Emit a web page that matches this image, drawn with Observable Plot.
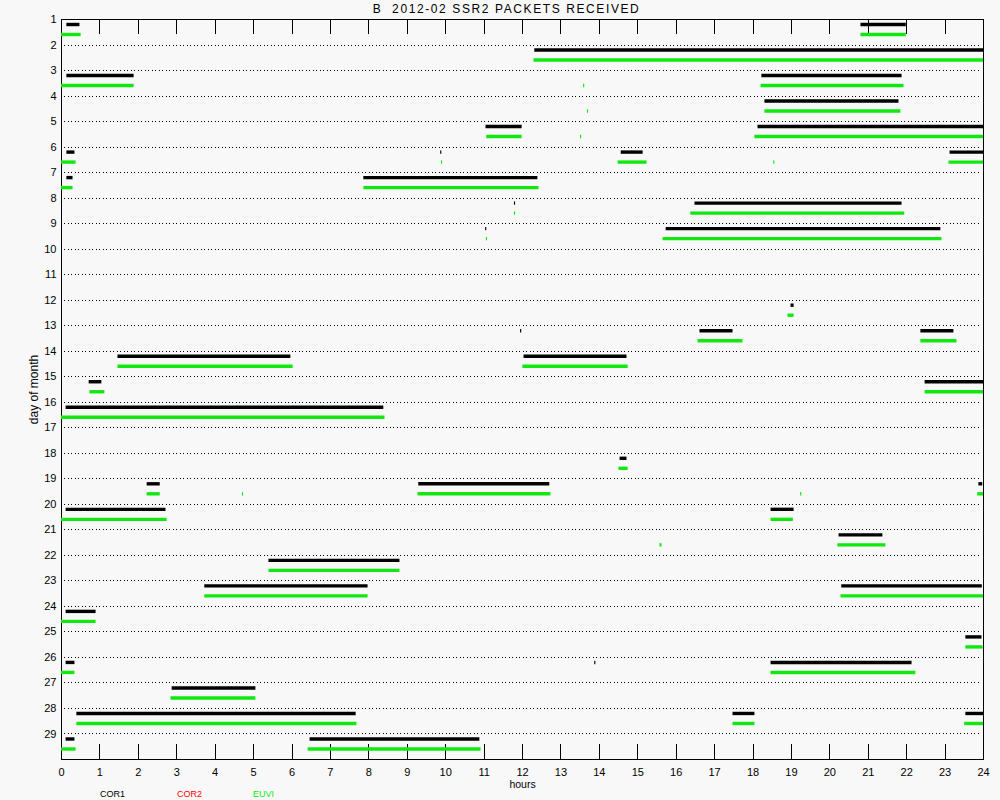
<!DOCTYPE html>
<html>
<head>
<meta charset="utf-8">
<script src="https://cdn.jsdelivr.net/npm/d3@7"></script>
<script src="https://cdn.jsdelivr.net/npm/@observablehq/plot@0.6"></script>
<style>
  html, body { margin: 0; padding: 0; background: #f8f8f8; }
</style>
</head>
<body>
<div id="chart"></div>
<script>
// Packet reception windows for February 2012, SSR2, spacecraft B.
// Each segment: [day of month, start hour, end hour]
const titleText = "B\u00a0\u00a02012-02 SSR2 PACKETS RECEIVED";

const dayTicks = [1, 2, 3, 4, 5, 6, 7, 8, 9, 10, 11, 12, 13, 14, 15, 16, 17, 18, 19, 20, 21, 22, 23, 24, 25, 26, 27, 28, 29];
const hourTicks = [0, 1, 2, 3, 4, 5, 6, 7, 8, 9, 10, 11, 12, 13, 14, 15, 16, 17, 18, 19, 20, 21, 22, 23, 24];

const cor1 = [
  [1, 0.14, 0.48], [1, 20.81, 21.99],
  [2, 12.32, 24],
  [3, 0.14, 1.89], [3, 18.23, 21.88],
  [4, 18.31, 21.80],
  [5, 11.05, 11.99], [5, 18.13, 24],
  [6, 0.14, 0.35], [6, 9.87, 9.90], [6, 14.57, 15.14], [6, 23.13, 24],
  [7, 0.14, 0.30], [7, 7.87, 12.40],
  [8, 11.79, 11.82], [8, 16.49, 21.88],
  [9, 11.04, 11.07], [9, 15.74, 22.89],
  [12, 18.99, 19.07],
  [13, 11.95, 11.98], [13, 16.62, 17.48], [13, 22.37, 23.23],
  [14, 1.47, 5.97], [14, 12.04, 14.72],
  [15, 0.72, 1.05], [15, 22.48, 24],
  [16, 0.12, 8.39],
  [18, 14.54, 14.72],
  [19, 2.23, 2.57], [19, 9.30, 12.71], [19, 23.88, 23.98],
  [20, 0.12, 2.72], [20, 18.47, 19.07],
  [21, 20.24, 21.38],
  [22, 5.40, 8.81],
  [23, 3.73, 7.98], [23, 20.31, 23.97],
  [24, 0.12, 0.90],
  [25, 23.54, 23.96],
  [26, 0.12, 0.35], [26, 13.88, 13.91], [26, 18.47, 22.14],
  [27, 2.88, 5.06],
  [28, 0.40, 7.67], [28, 17.48, 18.05], [28, 23.54, 24],
  [29, 0.12, 0.35], [29, 6.47, 10.89]
];

const cor2 = [];

const euvi = [
  [1, 0.0, 0.51], [1, 20.81, 21.99],
  [2, 12.30, 24],
  [3, 0.0, 1.89], [3, 13.59, 13.62], [3, 18.21, 21.93],
  [4, 13.69, 13.72], [4, 18.31, 21.85],
  [5, 11.07, 11.99], [5, 13.51, 13.54], [5, 18.05, 24],
  [6, 0.0, 0.38], [6, 9.89, 9.92], [6, 14.49, 15.24], [6, 18.54, 18.57], [6, 23.10, 24],
  [7, 0.0, 0.30], [7, 7.87, 12.43],
  [8, 11.79, 11.82], [8, 16.38, 21.95],
  [9, 11.06, 11.09], [9, 15.66, 22.92],
  [12, 18.91, 19.07],
  [13, 16.57, 17.74], [13, 22.37, 23.31],
  [14, 1.47, 6.03], [14, 12.01, 14.75],
  [15, 0.74, 1.13], [15, 22.48, 24],
  [16, 0.0, 8.42],
  [18, 14.51, 14.75],
  [19, 2.23, 2.57], [19, 4.71, 4.74], [19, 9.28, 12.74], [19, 19.24, 19.27], [19, 23.85, 24],
  [20, 0.0, 2.75], [20, 18.47, 19.05],
  [21, 15.58, 15.63], [21, 20.21, 21.46],
  [22, 5.40, 8.81],
  [23, 3.73, 7.98], [23, 20.29, 24],
  [24, 0.0, 0.90],
  [25, 23.54, 23.99],
  [26, 0.0, 0.35], [26, 18.47, 22.24],
  [27, 2.85, 5.06],
  [28, 0.40, 7.69], [28, 17.48, 18.05], [28, 23.51, 24],
  [29, 0.0, 0.38], [29, 6.42, 10.92]
];

const legendNames = ["COR1", "COR2", "EUVI"];
const legendColors = ["#000000", "#ff0000", "#10e810"];

const toSeg = ([day, start, end]) => ({day, start, end});
const segs = (rows, color, dy) =>
  Plot.ruleY(rows.map(toSeg), {
    y: "day", x1: "start", x2: "end", dy,
    stroke: color, strokeWidth: 3.4
  });

const innerHours = hourTicks.filter(h => h > 0 && h < 24);
const legendDx = [51, 128, 202];

const chart = Plot.plot({
  width: 1000,
  height: 800,
  marginLeft: 61,
  marginRight: 17,
  marginTop: 19,
  marginBottom: 41,
  style: {background: "#f8f8f8", fontFamily: "Liberation Sans, Arial, sans-serif", fontSize: "11px", color: "#000"},
  x: {domain: [0, 24]},
  y: {domain: [30, 1]},
  marks: [
    // dotted day lines
    Plot.ruleY(dayTicks.filter(d => d > 1), {
      y: d => d, insetLeft: 3, insetRight: 3,
      stroke: "#000", strokeWidth: 1, strokeDasharray: "1,2.5", shapeRendering: "crispEdges"
    }),
    // inward hour ticks on top and bottom edges
    Plot.ruleX(innerHours, {x: d => d, insetBottom: 725, stroke: "#000", shapeRendering: "crispEdges"}),
    Plot.ruleX(innerHours, {x: d => d, insetTop: 725, stroke: "#000", shapeRendering: "crispEdges"}),
    Plot.frame({stroke: "#000", shapeRendering: "crispEdges"}),
    segs(cor1, legendColors[0], 5),
    segs(cor2, legendColors[1], 10),
    segs(euvi, legendColors[2], 15),
    Plot.axisX(hourTicks, {anchor: "bottom", tickSize: 0, tickPadding: 9, fontSize: 11, label: null}),
    Plot.axisY(dayTicks, {anchor: "left", tickSize: 0, tickPadding: 5, fontSize: 11, label: null}),
    Plot.text([titleText], {frameAnchor: "top", lineAnchor: "middle", dx: -16, dy: -10, fontSize: 12}),
    Plot.text(["hours"], {frameAnchor: "bottom", lineAnchor: "middle", dy: 25, fontSize: 10.5}),
    Plot.text(["day of month"], {frameAnchor: "left", rotate: -90, textAnchor: "middle", lineAnchor: "middle", dx: -27, fontSize: 12}),
    ...legendNames.map((name, i) =>
      Plot.text([name], {frameAnchor: "bottom-left", textAnchor: "middle", lineAnchor: "middle",
        dx: legendDx[i], dy: 35, fontSize: 9, fill: legendColors[i]}))
  ]
});

d3.select(chart).selectAll("text")
  .filter(function() { return this.textContent === titleText; })
  .attr("letter-spacing", "1.6px");

document.getElementById("chart").appendChild(chart);
</script>
</body>
</html>
